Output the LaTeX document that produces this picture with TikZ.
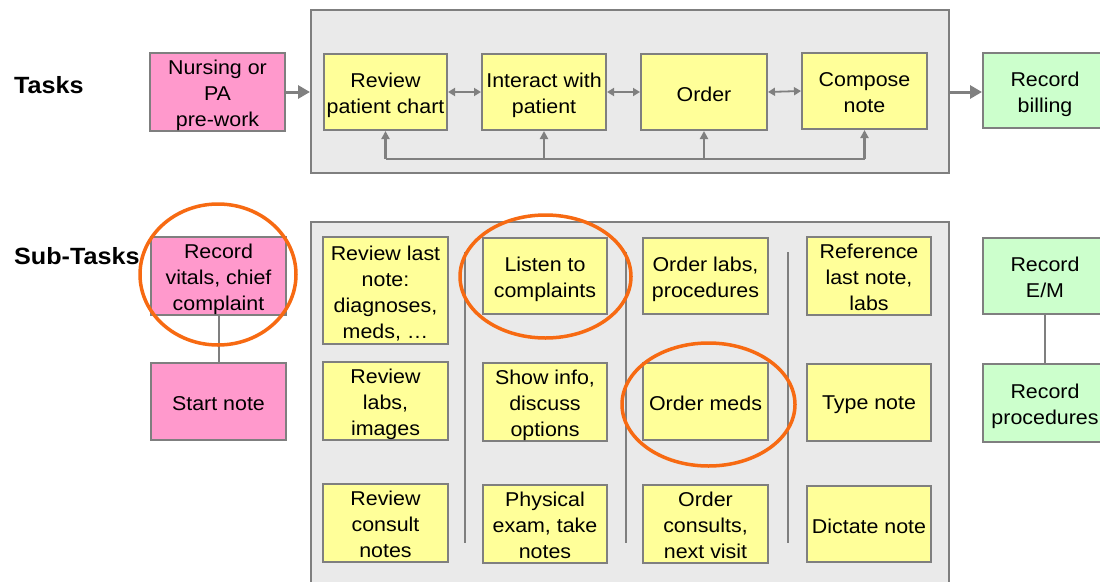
\documentclass[tikz,border=0pt]{standalone}
\usepackage{fontspec}
\setmainfont[FakeStretch=1.07]{Liberation Sans}
\usetikzlibrary{arrows.meta}
\definecolor{pinkf}{HTML}{FF99CC}
\definecolor{yelf}{HTML}{FFFF99}
\definecolor{grnf}{HTML}{CCFFCC}
\definecolor{panelf}{HTML}{EAEAEA}
\definecolor{edgec}{HTML}{7F7F7F}
\definecolor{arrc}{HTML}{808080}
\definecolor{ringc}{HTML}{F76A12}
\newcommand\boxtext[1]{\raisebox{-3.5pt}[\height][\depth]{\begin{tabular}{@{}c@{}}#1\end{tabular}}}
\tikzset{
  box/.style={draw=edgec, line width=2pt, inner sep=0pt, align=center,
    font=\fontsize{20}{26}\selectfont, minimum height=76pt},
  single/.style={execute at begin node={\rule{0pt}{19pt}}},
  pbox/.style={box, fill=pinkf, minimum width=135pt},
  ybox/.style={box, fill=yelf, minimum width=124pt},
  gbox/.style={box, fill=grnf, minimum width=124pt},
  panel/.style={draw=edgec, line width=2pt, fill=panelf, inner sep=0pt},
  heading/.style={font=\fontsize{23.5}{28}\selectfont\bfseries, anchor=west, inner sep=0pt},
  bigarrow/.style={draw=arrc, line width=3pt, -{Triangle[length=12pt,width=13pt]}},
  duoarrow/.style={draw=arrc, line width=1.8pt, {Triangle[length=7pt,width=8pt]}-{Triangle[length=7pt,width=8pt]}},
  fbline/.style={draw=arrc, line width=2.2pt},
  fbarrow/.style={fbline, -{Triangle[length=8pt,width=8pt]}},
  divider/.style={draw=edgec, line width=2pt},
  link/.style={draw=edgec, line width=2pt},
  ring/.style={draw=ringc, line width=3.5pt},
}
\begin{document}
\begin{tikzpicture}[x=1pt,y=-1pt]
\useasboundingbox (0,0) rectangle (1100,581);
\clip (0,0) rectangle (1100,581);
\fill[white] (0,0) rectangle (1100,581);

% panels
\node[panel, minimum width=638pt, minimum height=163pt] (toppanel) at (630,91.5) {};
\node[panel, minimum width=638pt, minimum height=378pt] (botpanel) at (630,411) {};

% headings
\node[heading] (tasks) at (14,85) {Tasks};
\node[heading] (subtasks) at (14,256) {Sub-Tasks};

% top row
\node[pbox, minimum height=77pt] (nurs) at (217.5,91.5) {\boxtext{Nursing or\\PA\\pre-work}};
\node[ybox, minimum width=123pt] (rev) at (385.5,92) {\boxtext{Review\\patient chart}};
\node[ybox] (inter) at (544,92) {\boxtext{Interact with\\patient}};
\node[ybox, single, minimum width=126pt] (order) at (704,92) {Order};
\node[ybox, minimum width=125pt] (comp) at (864.5,91) {\boxtext{Compose\\note}};
\node[gbox, minimum height=75pt] (bill) at (1045,90.5) {\boxtext{Record\\billing}};

% top arrows
\draw[bigarrow] (nurs.east |- 0,92) -- (toppanel.west |- 0,92);
\draw[bigarrow] (toppanel.east |- 0,92) -- (bill.west |- 0,92);
\draw[duoarrow] (rev.east) -- (inter.west);
\draw[duoarrow] (inter.east) -- (order.west);
\draw[duoarrow] (order.east) -- (comp.west);
\coordinate (fbrow) at (0,159);
\coordinate (fbA) at (rev.south |- fbrow);
\coordinate (fbB) at (inter.south |- fbrow);
\coordinate (fbC) at (order.south |- fbrow);
\coordinate (fbD) at (comp.south |- fbrow);
\draw[fbline, line join=miter] (fbA) -- (fbD);
\draw[fbarrow] (fbA) -- (rev.south);
\draw[fbarrow] (fbB) -- (inter.south);
\draw[fbarrow] (fbC) -- (order.south);
\draw[fbarrow] (fbD) -- (comp.south);

% sub-tasks left
\node[pbox] (vit) at (218.5,276) {\boxtext{Record\\vitals, chief\\complaint}};
\node[pbox, single, minimum height=77pt] (start) at (218.5,401.5) {Start note};
\draw[link] (vit.south) -- (start.north);

% column 1
\node[ybox, minimum width=125pt, minimum height=107pt] (c1a) at (385.5,290.5) {\boxtext{Review last\\note:\\diagnoses,\\meds, \dots}};
\node[ybox, minimum width=125pt] (c1b) at (385.5,401) {\boxtext{Review\\labs,\\images}};
\node[ybox, minimum width=125pt, minimum height=77pt] (c1c) at (385.5,522.5) {\boxtext{Review\\consult\\notes}};
% column 2
\node[ybox] (c2a) at (545,276) {\boxtext{Listen to\\complaints}};
\node[ybox, minimum height=77pt] (c2b) at (545,401.5) {\boxtext{Show info,\\discuss\\options}};
\node[ybox] (c2c) at (545,524) {\boxtext{Physical\\exam, take\\notes}};
% column 3
\node[ybox, minimum width=125pt] (c3a) at (705.5,276) {\boxtext{Order labs,\\procedures}};
\node[ybox, single, minimum width=125pt, minimum height=77pt] (c3b) at (705.5,401.5) {Order meds};
\node[ybox, minimum width=125pt] (c3c) at (705.5,524) {\boxtext{Order\\consults,\\next visit}};
% column 4
\node[ybox] (c4a) at (869,276) {\boxtext{Reference\\last note,\\labs}};
\node[ybox, single, minimum height=77pt] (c4b) at (869,402.5) {Type note};
\node[ybox, single] (c4c) at (869,524) {Dictate note};

% dividers
\coordinate (d1t) at (465,252); \coordinate (d1b) at (465,543);
\coordinate (d2t) at (626,252); \coordinate (d2b) at (626,543);
\coordinate (d3t) at (788,252); \coordinate (d3b) at (788,543);
\draw[divider] (d1t) -- (d1b);
\draw[divider] (d2t) -- (d2b);
\draw[divider] (d3t) -- (d3b);

% green right
\node[gbox] (em) at (1045,276) {\boxtext{Record\\E/M}};
\node[gbox, minimum height=78pt] (proc) at (1045,403) {\boxtext{Record\\procedures}};
\draw[link] (em.south) -- (proc.north);

% orange rings
\draw[ring] (218,274.5) ellipse [x radius=78, y radius=70.5];
\draw[ring] (545.5,276.5) ellipse [x radius=85.5, y radius=61.5];
\draw[ring] (708.5,404.5) ellipse [x radius=86.5, y radius=61.5];
\end{tikzpicture}
\end{document}
